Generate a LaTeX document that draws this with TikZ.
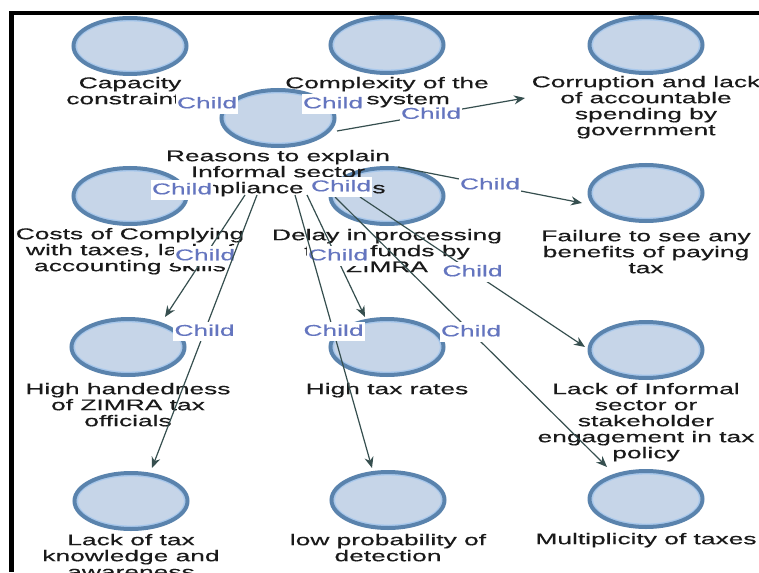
\documentclass[tikz,border=0pt]{standalone}
\usepackage{fontspec}
\setmainfont{Liberation Sans}[FakeStretch=1.7,FakeBold=0.4]
\usetikzlibrary{shapes.geometric,arrows.meta}

\definecolor{ringdark}{HTML}{5A83AD}
\definecolor{ringlight}{HTML}{A8C8EC}
\definecolor{bubblefill}{HTML}{C6D5E8}
\definecolor{edgecol}{HTML}{364F4F}
\definecolor{childblue}{HTML}{6475BF}
\definecolor{labeltext}{HTML}{1A1A1A}

\newcommand\lblfont{\fontsize{15.5pt}{16pt}\selectfont}
\newcommand\firstline{\rule{0pt}{11.5pt}}

\begin{document}
\begin{tikzpicture}[x=1pt,y=-1pt,
  bubble/.style={ellipse, draw=ringdark, line width=4pt, fill=bubblefill,
    minimum width=113pt, minimum height=56pt, inner sep=0pt,
    path picture={\draw[ringlight, line width=1.4pt]
      (path picture bounding box.center) ellipse [x radius=53.8pt, y radius=25.3pt];}},
  caption/.style={anchor=north, align=center, inner sep=0pt, font=\lblfont, text=labeltext},
  childlbl/.style={fill=white, text=childblue, font=\lblfont, inner xsep=1pt,
    inner ysep=2.5pt, text height=11.5pt, text depth=3pt},
  link/.style={draw=edgecol, line width=1.2pt, -{Stealth[length=11pt,width=9pt]}}]

\useasboundingbox (0,0) rectangle (759,572);
\fill[white] (0,0) rectangle (759,572);

% frame along the top and left edges
\fill[black] (9,11) rectangle (759,15.5);
\fill[black] (9,11) rectangle (14,572);

% bubbles
\node[bubble] (bCap)  at (130,46)  {};
\node[bubble] (bCplx) at (387,45)  {};
\node[bubble] (bCorr) at (646,45)  {};
\node[bubble] (bHub)  at (278,118) {};
\node[bubble] (bCost) at (130,196) {};
\node[bubble] (bDel)  at (387,196) {};
\node[bubble] (bFail) at (646,193) {};
\node[bubble] (bHand) at (128,347) {};
\node[bubble] (bRate) at (387,347) {};
\node[bubble] (bEng)  at (646,350) {};
\node[bubble] (bKnow) at (131,501) {};
\node[bubble] (bProb) at (388,500) {};
\node[bubble] (bMult) at (646,499) {};

% captions
\node[caption] (tCap)  at (130,76.5)  {\firstline Capacity\\constraints};
\node[caption] (tCplx) at (387,76.5)  {\firstline Complexity of the\\tax system};
\node[caption] (tCorr) at (646,75.5)  {\firstline Corruption and lack\\of accountable\\spending by\\government};
\node[caption] (tHub)  at (278,149.5) {\firstline Reasons to explain\\Informal sector\\compliance issues};
\node[caption] (tCost) at (130,227.5) {\firstline Costs of Complying\\with taxes, lack of\\accounting skills};
\node[caption] (tDel)  at (387,228.5) {\firstline Delay in processing\\tax refunds by\\ZIMRA};
\node[caption] (tFail) at (646,229.5) {\firstline Failure to see any\\benefits of paying\\tax};
\node[caption] (tHand) at (128,382.5) {\firstline High handedness\\of ZIMRA tax\\officials};
\node[caption] (tRate) at (387,382.5) {\firstline High tax rates};
\node[caption] (tEng)  at (646,382.5) {\firstline Lack of Informal\\sector or\\stakeholder\\engagement in tax\\policy};
\node[caption] (tKnow) at (131,533.5) {\firstline Lack of tax\\knowledge and\\awareness};
\node[caption] (tProb) at (388,533.5) {\firstline low probability of\\detection};
\node[caption] (tMult) at (646,532.5) {\firstline Multiplicity of taxes};

% connector ends
\coordinate (sCorr) at (337,131);  \coordinate (eCorr) at (525,98);
\coordinate (sFail) at (398,167);  \coordinate (eFail) at (582,203);
\coordinate (sHand) at (245,195);  \coordinate (eHand) at (165,317);
\coordinate (sKnow) at (257,195);  \coordinate (eKnow) at (152,468);
\coordinate (sRate) at (307,195);  \coordinate (eRate) at (365,317);
\coordinate (sProb) at (295,195);  \coordinate (eProb) at (372,468);
\coordinate (sEng)  at (360,197);  \coordinate (eEng)  at (585,347);
\coordinate (sMult) at (335,197);  \coordinate (eMult) at (607,467);

% connectors from the central topic
\draw[link] (sCorr) -- (eCorr) node[childlbl, midway] (cCorr) {Child};
\draw[link] (sFail) -- (eFail) node[childlbl, midway] (cFail) {Child};
\draw[link] (sHand) -- (eHand) node[childlbl, midway] (cHand) {Child};
\draw[link] (sKnow) -- (eKnow) node[childlbl, midway] (cKnow) {Child};
\draw[link] (sRate) -- (eRate) node[childlbl, midway, xshift=2pt] (cRate) {Child};
\draw[link] (sProb) -- (eProb) node[childlbl, midway] (cProb) {Child};
\draw[link] (sEng)  -- (eEng)  node[childlbl, midway] (cEng)  {Child};
\draw[link] (sMult) -- (eMult) node[childlbl, midway] (cMult) {Child};

% labels of the links hidden behind overlapping bubbles
\node[childlbl] (cCap)  at (207,104) {Child};
\node[childlbl] (cCplx) at (333,104) {Child};
\node[childlbl] (cCost) at (182,190) {Child};
\node[childlbl] (cDel)  at (341,187) {Child};

\end{tikzpicture}
\end{document}
